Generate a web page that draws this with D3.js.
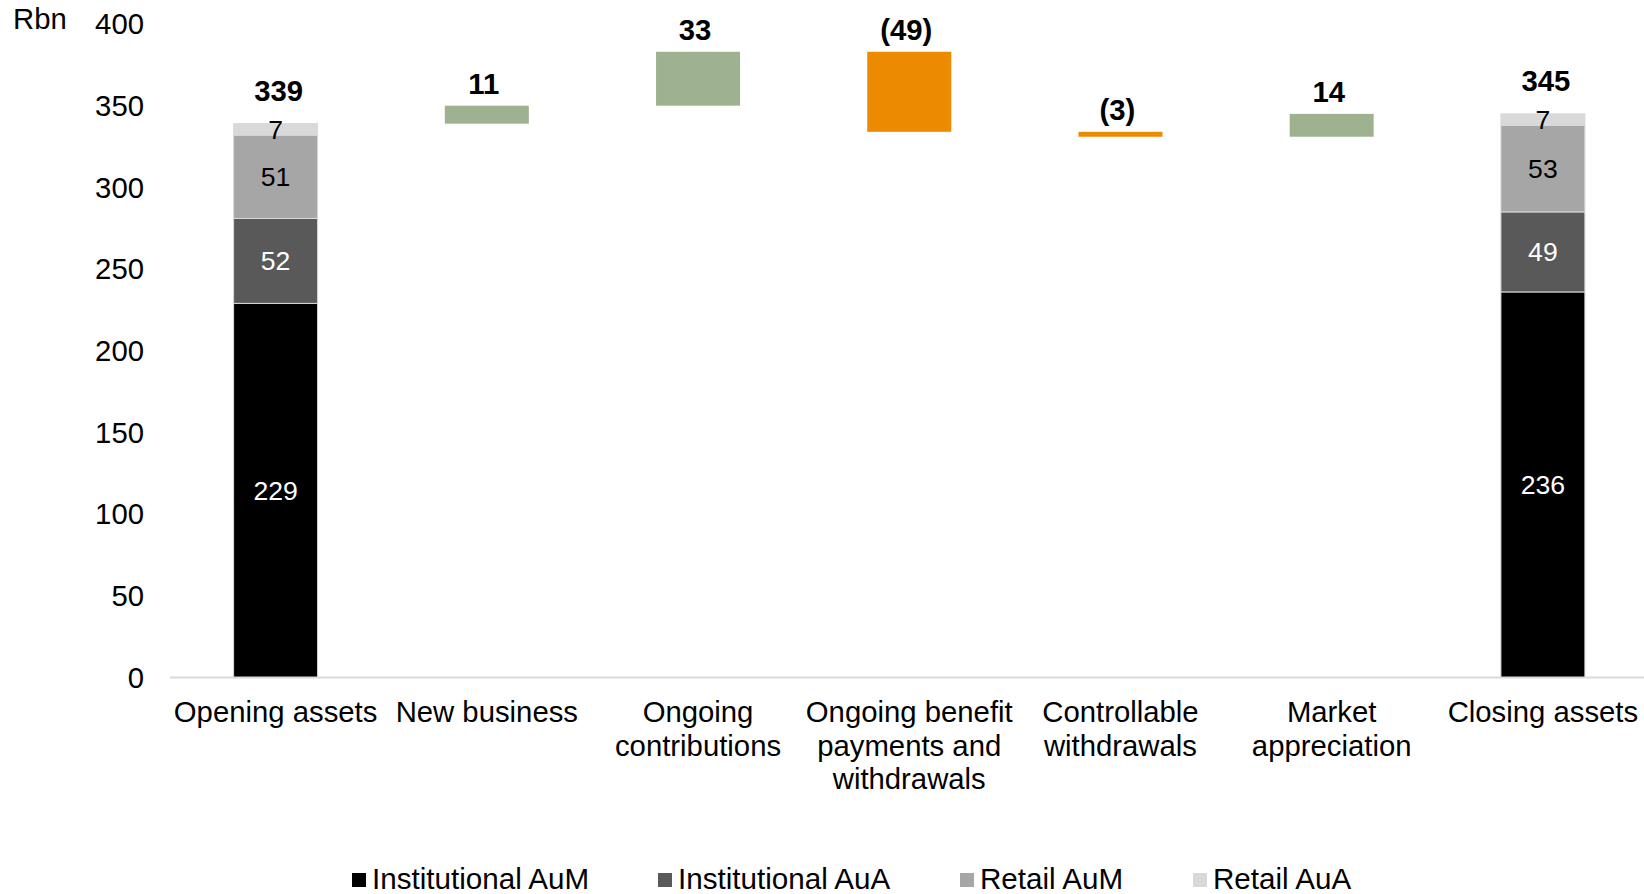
<!DOCTYPE html>
<html>
<head>
<meta charset="utf-8">
<script src="https://cdn.jsdelivr.net/npm/d3@7"></script>
<style>
  body { margin: 0; background: #fff; }
  text { font-family: "Liberation Sans", Arial, sans-serif; }
</style>
</head>
<body>
<svg id="chart" width="1644" height="894"></svg>
<script>
// categories (split in lines the way they wrap on the chart)
const categories = ["Opening assets", "New business", "Ongoing contributions",
  "Ongoing benefit payments and withdrawals", "Controllable withdrawals",
  "Market appreciation", "Closing assets"];
const categoryLines = [
  ["Opening assets"], ["New business"], ["Ongoing", "contributions"],
  ["Ongoing benefit", "payments and", "withdrawals"], ["Controllable", "withdrawals"],
  ["Market", "appreciation"], ["Closing assets"]
];

// stacked series for opening / closing
const seriesNames = ["Institutional AuM", "Institutional AuA", "Retail AuM", "Retail AuA"];
const seriesColors = ["#000000", "#595959", "#a6a6a6", "#d9d9d9"];
const labelColors = ["#ffffff", "#ffffff", "#000000", "#000000"];
const openingValues = [229, 52, 51, 7];
const closingValues = [236, 49, 53, 7];
const openingTotal = 339;
const closingTotal = 345;

// movements between opening and closing
const deltas = [11, 33, -49, -3, 14];

const yTicks = [0, 50, 100, 150, 200, 250, 300, 350, 400];

const svg = d3.select("#chart");

const x = d3.scaleBand()
  .domain(categories)
  .range([170, 1648.5]);

const y = d3.scaleLinear()
  .domain([0, 400])
  .range([677.5, 24]);

const barW = 84;
const fs = 29.3;
const cx = c => x(c) + x.bandwidth() / 2;

// y axis labels (no line)
svg.append("g")
  .selectAll("text")
  .data(yTicks)
  .enter()
  .append("text")
    .attr("x", 144)
    .attr("y", d => y(d))
    .attr("dy", "0.35em")
    .attr("text-anchor", "end")
    .attr("font-size", fs)
    .attr("fill", "#000")
    .text(d => d);

svg.append("text")
  .attr("x", 13)
  .attr("y", 29)
  .attr("font-size", fs)
  .text("Rbn");

// stacked bars
const stacks = [
  { cat: categories[0], values: openingValues, total: openingTotal },
  { cat: categories[6], values: closingValues, total: closingTotal }
];

stacks.forEach(s => {
  let acc = 0;
  const segs = s.values.map((v, i) => {
    const seg = { i: i, y0: acc, y1: acc + v, v: v };
    acc += v;
    return seg;
  });
  const g = svg.append("g");
  g.selectAll("rect")
    .data(segs)
    .enter()
    .append("rect")
      .attr("x", cx(s.cat) - barW / 2)
      .attr("width", barW)
      .attr("y", d => y(d.y1))
      .attr("height", d => y(d.y0) - y(d.y1))
      .attr("fill", d => seriesColors[d.i])
      .attr("stroke", "#d9d9d9")
      .attr("stroke-width", 1);
  g.selectAll("text.seg")
    .data(segs)
    .enter()
    .append("text")
      .attr("class", "seg")
      .attr("x", cx(s.cat))
      .attr("y", d => y((d.y0 + d.y1) / 2))
      .attr("dy", "0.36em")
      .attr("text-anchor", "middle")
      .attr("font-size", 26.6)
      .attr("fill", d => labelColors[d.i])
      .text(d => d.v);
  g.append("text")
    .attr("x", cx(s.cat) + 3)
    .attr("y", y(s.total) - 23)
    .attr("text-anchor", "middle")
    .attr("font-size", fs)
    .attr("font-weight", "bold")
    .text(s.total);
});

// floating waterfall bars
let running = openingTotal;
const floats = deltas.map((d, i) => {
  const start = running;
  running += d;
  return { cat: categories[i + 1], start: start, end: running, d: d };
});

svg.append("g")
  .selectAll("rect")
  .data(floats)
  .enter()
  .append("rect")
    .attr("x", d => cx(d.cat) - barW / 2)
    .attr("width", barW)
    .attr("y", d => y(Math.max(d.start, d.end)))
    .attr("height", d => Math.abs(y(d.start) - y(d.end)))
    .attr("fill", d => d.d >= 0 ? "#9fb28f" : "#ec8a00");

svg.append("g")
  .selectAll("text")
  .data(floats)
  .enter()
  .append("text")
    .attr("x", d => cx(d.cat) - 3)
    .attr("y", d => y(Math.max(d.start, d.end)) - 12)
    .attr("text-anchor", "middle")
    .attr("font-size", fs)
    .attr("font-weight", "bold")
    .text(d => d.d < 0 ? "(" + Math.abs(d.d) + ")" : d.d);

// baseline
svg.append("line")
  .attr("x1", 170)
  .attr("x2", 1644)
  .attr("y1", y(0))
  .attr("y2", y(0))
  .attr("stroke", "#d9d9d9")
  .attr("stroke-width", 2);

// category labels
categories.forEach((c, i) => {
  const t = svg.append("text")
    .attr("text-anchor", "middle")
    .attr("font-size", fs)
    .attr("fill", "#000");
  categoryLines[i].forEach((line, k) => {
    t.append("tspan")
      .attr("x", cx(c))
      .attr("y", 722 + k * 33.5)
      .text(line);
  });
});

// legend
const legendX = [352, 658, 960, 1193];
const legend = svg.append("g");
seriesNames.forEach((name, i) => {
  legend.append("rect")
    .attr("x", legendX[i])
    .attr("y", 873)
    .attr("width", 14)
    .attr("height", 14)
    .attr("fill", seriesColors[i]);
  legend.append("text")
    .attr("x", legendX[i] + 20)
    .attr("y", 889)
    .attr("font-size", 29.6)
    .text(name);
});
</script>
</body>
</html>
